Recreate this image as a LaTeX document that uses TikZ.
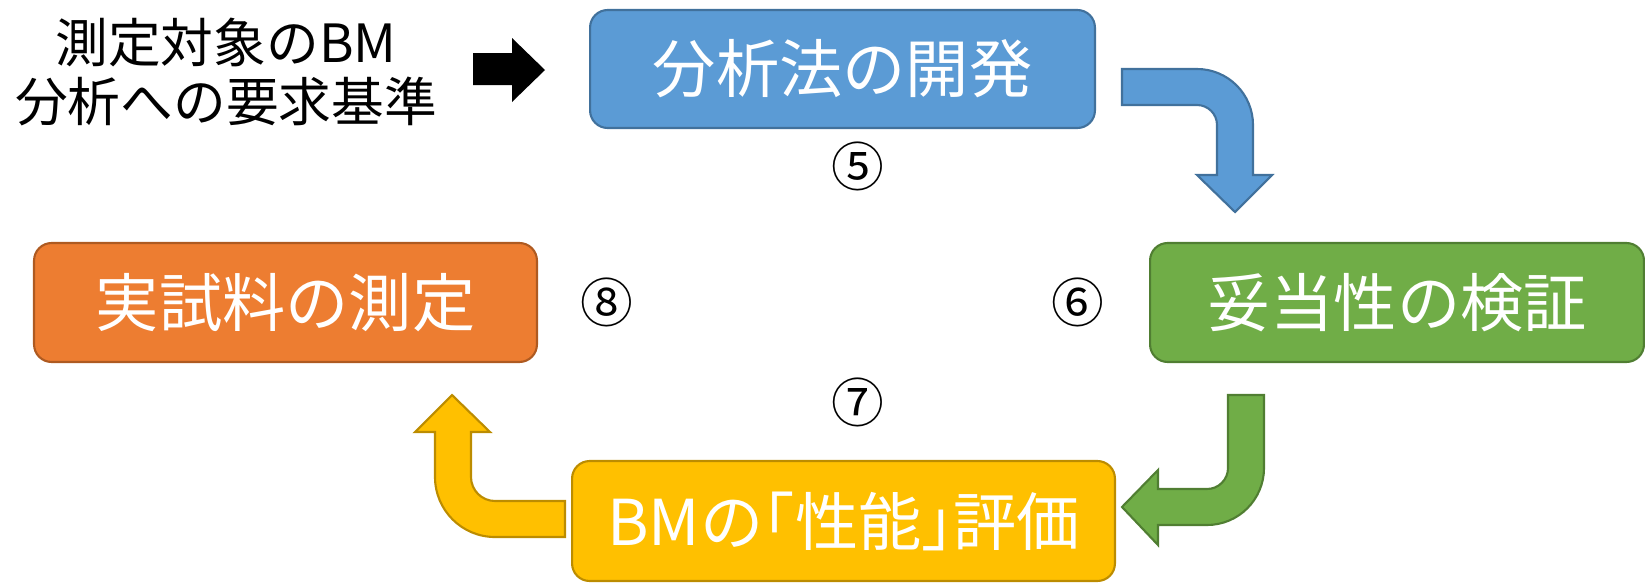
\documentclass[tikz,border=0pt]{standalone}
\usepackage{fontspec}
\setmainfont{Noto Sans CJK JP}
\definecolor{bluef}{HTML}{5B9BD5}\definecolor{blued}{HTML}{41719C}
\definecolor{greenf}{HTML}{70AD47}\definecolor{greend}{HTML}{507E32}
\definecolor{orangef}{HTML}{ED7D31}\definecolor{oranged}{HTML}{AE5A21}
\definecolor{yellowf}{HTML}{FFC000}\definecolor{yellowd}{HTML}{BC8C00}
\tikzset{
  stepbox/.style={draw, line width=1.2pt, rounded corners=10pt, inner sep=0pt,
    text=white, font=\fontsize{36}{40}\selectfont, minimum height=#1},
  stepbox/.default=2.38cm,
  bentarrow/.style={line width=1.2pt, line join=miter},
  numlabel/.style={font=\fontsize{30}{34}\selectfont, inner sep=0pt},
}
\begin{document}
\begin{tikzpicture}[x=0.02cm, y=0.02cm]
\useasboundingbox (0,0) rectangle (1645,583);
% boxes
\node[stepbox, fill=bluef, draw=blued, minimum width=10.1cm, minimum height=2.36cm] (dev) at (842.5,514) {分析法の開発};
\node[stepbox, fill=greenf, draw=greend, minimum width=9.88cm] (val) at (1397,280.5) {妥当性の検証};
\node[stepbox, fill=yellowf, draw=yellowd, minimum width=10.86cm, minimum height=2.4cm] (eval) at (843.5,62) {BMの\kern-.5em「性能」\kern-.5em 評価};
\node[stepbox, fill=orangef, draw=oranged, minimum width=10.06cm] (meas) at (285.5,280.5) {実試料の測定};
% input text
\node[font=\fontsize{30}{34}\selectfont, align=center, inner sep=0pt] (req) at (226,511) {測定対象のBM\\分析への要求基準};
% black arrow
\fill[black] (473,530) -- (512,530) -- (512,545) -- (545,513) -- (512,481) -- (512,498) -- (473,498) -- cycle;
% blue bent arrow
\filldraw[bentarrow, fill=bluef, draw=blued] (1122,514) -- (1197,514) arc[start angle=90, end angle=0, radius=56]
  -- (1253,408) -- (1272,408) -- (1235,371) -- (1197,408) -- (1217,408) -- (1217,458)
  arc[start angle=0, end angle=90, radius=20] -- (1122,478) -- cycle;
% green bent arrow
\filldraw[bentarrow, fill=greenf, draw=greend] (1228,188) -- (1264,188) -- (1264,115) arc[start angle=0, end angle=-90, radius=57]
  -- (1158,58) -- (1158,38) -- (1122,76) -- (1158,113) -- (1158,94) -- (1207,94)
  arc[start angle=-90, end angle=0, radius=21] -- cycle;
% yellow bent arrow
\filldraw[bentarrow, fill=yellowf, draw=yellowd] (565,82) -- (495,82) arc[start angle=-90, end angle=-180, radius=24]
  -- (471,151) -- (490,151) -- (452,188) -- (415,151) -- (435,151) -- (435,106)
  arc[start angle=180, end angle=270, radius=60] -- (565,46) -- cycle;
% numbers
\node[numlabel] (n5) at (858,417) {⑤};
\node[numlabel] (n6) at (1078,281) {⑥};
\node[numlabel] (n7) at (858,181) {⑦};
\node[numlabel] (n8) at (607,281) {⑧};
\end{tikzpicture}
\end{document}
